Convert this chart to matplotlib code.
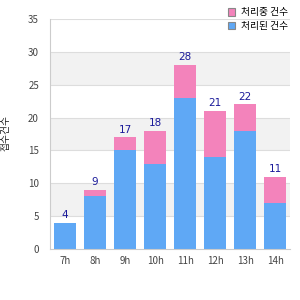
import matplotlib
matplotlib.use("Agg")
import matplotlib.pyplot as plt
from matplotlib.patches import Patch

plt.rcParams['font.family'] = ['Noto Sans CJK KR', 'DejaVu Sans']

categories = ["7h", "8h", "9h", "10h", "11h", "12h", "13h", "14h"]
done = [4, 8, 15, 13, 23, 14, 18, 7]
pending = [0, 1, 2, 5, 5, 7, 4, 4]
totals = [d + p for d, p in zip(done, pending)]
series_names = ["처리중 건수", "처리된 건수"]
y_label = "접수건수"

blue = "#5fa8f5"
pink = "#f383bb"

fig = plt.figure(figsize=(3, 3), dpi=100)
ax = fig.add_axes([0.167, 0.17, 0.8, 0.767])

x = list(range(len(categories)))
for lo in range(0, 35, 5):
    if (lo // 5) % 2 == 1:
        ax.axhspan(lo, lo + 5, color="#f2f2f2", zorder=0, lw=0)
for yv in range(5, 36, 5):
    ax.axhline(yv, color="#dddddd", lw=0.8, zorder=0.5)

ax.bar(x, done, width=0.73, color=blue, zorder=2)
ax.bar(x, pending, bottom=done, width=0.73, color=pink, zorder=2)
for xi, t in zip(x, totals):
    ax.text(xi, t + 0.4, str(t), ha="center", va="bottom", fontsize=7.5,
            family="DejaVu Sans", color="#1a1a9a", zorder=3)

ax.set_xlim(-0.5, len(categories) - 0.5)
ax.set_ylim(0, 35)
ax.set_yticks(range(0, 36, 5))
ax.set_xticks(x)
ax.set_xticklabels(categories)
ax.tick_params(axis="both", labelsize=7, colors="#444444", length=0, pad=5)
ax.tick_params(axis="y", pad=8)
for s in ["top", "right"]:
    ax.spines[s].set_visible(False)
for s in ["left", "bottom"]:
    ax.spines[s].set_color("#cccccc")

fig.text(0.02, 0.557, y_label, rotation=90, ha="center", va="center", fontsize=7, color="#222222")

handles = [Patch(facecolor=pink, edgecolor="#888888", lw=0.8),
           Patch(facecolor=blue, edgecolor="#888888", lw=0.8)]
fig.legend(handles, series_names, loc="upper right", bbox_to_anchor=(0.99, 1.005),
           frameon=False, fontsize=7, handlelength=0.8, handleheight=0.8,
           labelspacing=0.4, handletextpad=0.6)

fig.savefig("out.png", dpi=100)
